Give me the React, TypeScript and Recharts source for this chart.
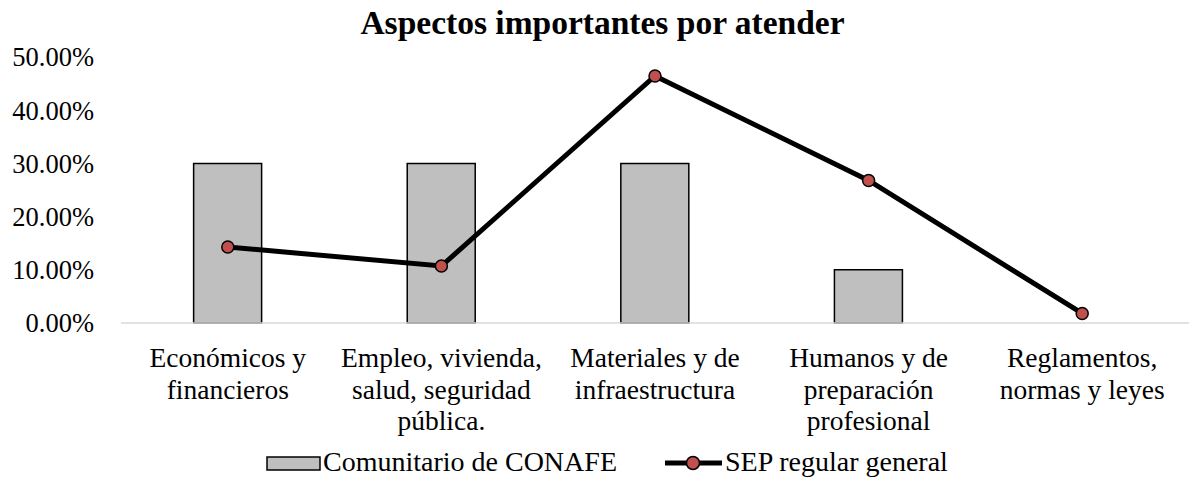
import React from "react";
import { Bar, ComposedChart, Legend, Line, XAxis, YAxis } from "recharts";

const categories = [
  "Económicos y\nfinancieros",
  "Empleo, vivienda,\nsalud, seguridad\npública.",
  "Materiales y de\ninfraestructura",
  "Humanos y de\npreparación\nprofesional",
  "Reglamentos,\nnormas y leyes",
];
const conafe = [0.3, 0.3, 0.3, 0.1, 0];
const sepRegular = [0.1429, 0.1071, 0.4643, 0.2679, 0.0179];
const yTicks = [0, 0.1, 0.2, 0.3, 0.4, 0.5];

const data = categories.map((c, i) => ({ name: c, conafe: conafe[i], sep: sepRegular[i] }));

const font = "Liberation Serif";

function CategoryTick({ x, y, payload }: any) {
  const lines = String(payload.value).split("\n");
  return (
    <text x={x} y={y} textAnchor="middle" fontFamily={font} fontSize={27.5} fill="#000">
      {lines.map((l, i) => (
        <tspan key={i} x={x} dy={i === 0 ? 36 : 31.5}>
          {l}
        </tspan>
      ))}
    </text>
  );
}

function LegendContent() {
  return (
    <svg width={1189} height={31} style={{ display: "block", overflow: "visible" }}>
      <rect x={267} y={8} width={53} height={13} fill="#bfbfbf" stroke="#000" strokeWidth={1.5} />
      <text x={323} y={22} fontFamily={font} fontSize={28} fill="#000">
        Comunitario de CONAFE
      </text>
      <line x1={665} y1={14} x2={722} y2={14} stroke="#000" strokeWidth={5} />
      <circle cx={693} cy={14} r={6.5} fill="#c0504d" stroke="#000" strokeWidth={1.5} />
      <text x={725} y={22} fontFamily={font} fontSize={28} fill="#000">
        SEP regular general
      </text>
    </svg>
  );
}

export default function App() {
  return (
    <div style={{ position: "absolute", left: 0, top: 0, width: 1189, height: 481, background: "#fff" }}>
      <div
        style={{
          position: "absolute",
          top: 4,
          left: 8,
          width: 1189,
          textAlign: "center",
          fontFamily: font,
          fontWeight: "bold",
          fontSize: 33.5,
          lineHeight: "normal",
        }}
      >
        Aspectos importantes por atender
      </div>
      <ComposedChart
        width={1189}
        height={481}
        data={data}
        margin={{ top: 57, right: 0, left: 0, bottom: 7 }}
        barCategoryGap="34%"
      >
        <XAxis
          dataKey="name"
          interval={0}
          height={120}
          tick={<CategoryTick />}
          tickLine={false}
          axisLine={{ stroke: "#d9d9d9", strokeWidth: 1.5 }}
        />
        <YAxis
          width={121}
          domain={[0, 0.5]}
          ticks={yTicks}
          tickFormatter={(v: number) => `${(v * 100).toFixed(2)}%`}
          axisLine={false}
          tickLine={false}
          tickMargin={21}
          tick={{ fontFamily: font, fontSize: 26.5, fill: "#000" }}
        />
        <Legend verticalAlign="bottom" height={31} content={<LegendContent />} wrapperStyle={{ left: 0, top: 449 }} />
        <Bar dataKey="conafe" fill="#bfbfbf" stroke="#000" strokeWidth={1.5} isAnimationActive={false} />
        <Line
          dataKey="sep"
          stroke="#000"
          strokeWidth={5}
          dot={{ r: 6, fill: "#c0504d", stroke: "#000", strokeWidth: 1.5 }}
          activeDot={false}
          isAnimationActive={false}
        />
      </ComposedChart>
    </div>
  );
}
